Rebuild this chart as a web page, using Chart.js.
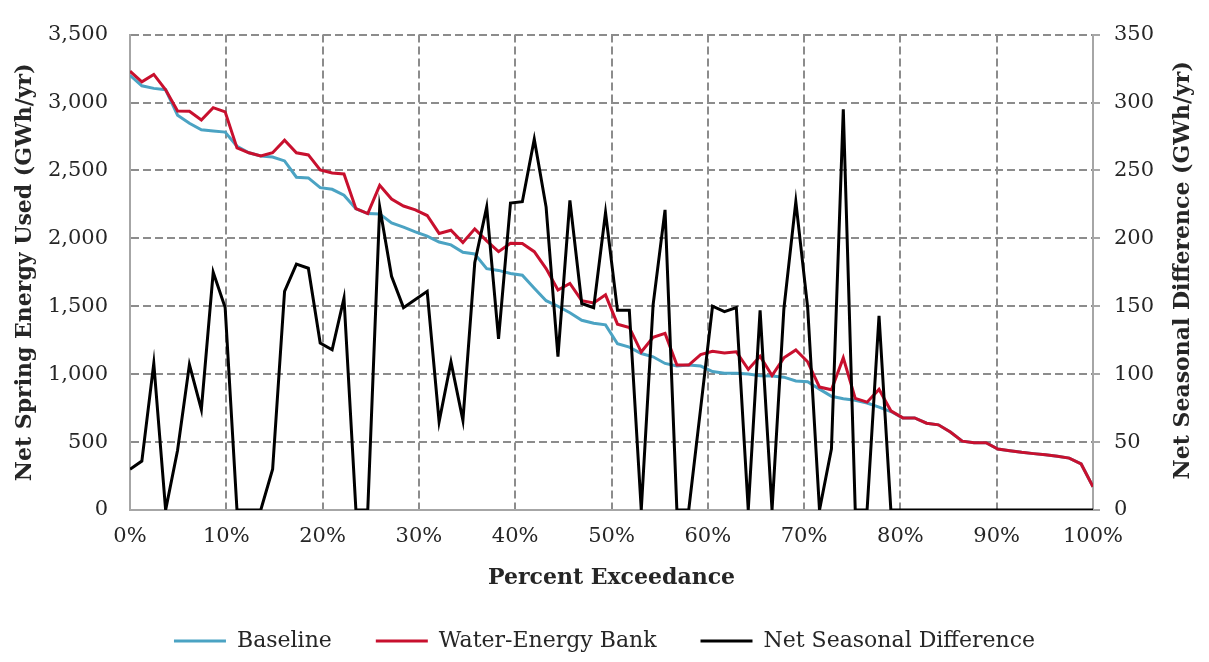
<!DOCTYPE html>
<html>
<head>
<meta charset="utf-8">
<script src="https://cdn.jsdelivr.net/npm/chart.js@4.4.1/dist/chart.umd.min.js"></script>
<style>
  html, body { margin: 0; padding: 0; background: #ffffff; }
  #wrap { width: 1209px; height: 662px; }
</style>
</head>
<body>
<div id="wrap"><canvas id="c" width="1209" height="662"></canvas></div>
<script>
// Percent exceedance of each ranked year (82 values)
const exceedance = [
  0.00, 1.23, 2.47, 3.70, 4.94, 6.17, 7.41, 8.64, 9.88, 11.11,
  12.35, 13.58, 14.81, 16.05, 17.28, 18.52, 19.75, 20.99, 22.22, 23.46,
  24.69, 25.93, 27.16, 28.40, 29.63, 30.86, 32.10, 33.33, 34.57, 35.80,
  37.04, 38.27, 39.51, 40.74, 41.98, 43.21, 44.44, 45.68, 46.91, 48.15,
  49.38, 50.62, 51.85, 53.09, 54.32, 55.56, 56.79, 58.02, 59.26, 60.49,
  61.73, 62.96, 64.20, 65.43, 66.67, 67.90, 69.14, 70.37, 71.60, 72.84,
  74.07, 75.31, 76.54, 77.78, 79.01, 80.25, 81.48, 82.72, 83.95, 85.19,
  86.42, 87.65, 88.89, 90.12, 91.36, 92.59, 93.83, 95.06, 96.30, 97.53,
  98.77, 100.00
];

// Net Spring Energy Used (GWh/yr) - left axis
const baseline = [
  3200, 3123, 3104, 3094, 2907, 2847, 2799, 2791, 2782, 2678,
  2630, 2606, 2599, 2570, 2450, 2445, 2373, 2361, 2317, 2218,
  2182, 2180, 2113, 2082, 2048, 2017, 1973, 1952, 1897, 1885,
  1777, 1764, 1741, 1729, 1633, 1541, 1500, 1452, 1397, 1375,
  1363, 1224, 1199, 1152, 1128, 1079, 1060, 1067, 1060, 1019,
  1007, 1007, 1002, 988, 986, 978, 950, 945, 890, 837,
  819, 808, 788, 757, 725, 678, 678, 639, 627, 574,
  507, 495, 495, 449, 437, 425, 415, 406, 396, 382,
  339, 171
];

const waterEnergyBank = [
  3231, 3152, 3207, 3094, 2938, 2936, 2871, 2962, 2931, 2666,
  2630, 2606, 2630, 2722, 2630, 2614, 2503, 2481, 2474, 2218,
  2182, 2390, 2289, 2238, 2210, 2168, 2036, 2060, 1969, 2070,
  1981, 1902, 1964, 1962, 1902, 1777, 1620, 1668, 1541, 1524,
  1584, 1368, 1344, 1163, 1272, 1300, 1067, 1067, 1144, 1168,
  1156, 1165, 1035, 1132, 990, 1120, 1178, 1091, 905, 885,
  1120, 822, 794, 888, 730, 678, 678, 639, 627, 574,
  507, 495, 495, 449, 437, 425, 415, 406, 396, 382,
  339, 171
];

// Net Seasonal Difference (GWh/yr) - right axis
const netSeasonalDifference = [
  30, 36, 108, 0, 44, 107, 74, 175, 149, 0,
  0, 0, 30, 161, 181, 178, 123, 118, 156, 0,
  0, 223, 172, 149, 155, 161, 65, 109, 66, 182,
  223, 126, 226, 227, 273, 223, 113, 228, 152, 149,
  219, 147, 147, 0, 151, 221, 0, 0, 75, 150,
  146, 149, 0, 147, 0, 148, 227, 149, 0, 45,
  295, 0, 0, 143, 0, 0, 0, 0, 0, 0,
  0, 0, 0, 0, 0, 0, 0, 0, 0, 0,
  0, 0
];

const seriesLabels = ['Baseline', 'Water-Energy Bank', 'Net Seasonal Difference'];
const leftTitle = 'Net Spring Energy Used (GWh/yr)';
const rightTitleText = 'Net Seasonal Difference (GWh/yr)';
const xTitle = 'Percent Exceedance';

const toPoints = (vals) => vals.map((v, i) => ({ x: exceedance[i], y: v }));

const FONT = '"DejaVu Serif", "Liberation Serif", serif';
const TEXT = '#262626';
const GRID = '#8c8c8c';
const AXIS = '#a6a6a6';

const rightTitle = {
  id: 'rightTitle',
  afterDraw(chart) {
    const { ctx, chartArea } = chart;
    const s = chart.scales.y1;
    ctx.save();
    ctx.translate(s.right - 26, (chartArea.top + chartArea.bottom) / 2 - 2);
    ctx.rotate(-Math.PI / 2);
    ctx.font = 'bold 22px ' + FONT;
    ctx.fillStyle = TEXT;
    ctx.textAlign = 'center';
    ctx.textBaseline = 'middle';
    ctx.fillText(rightTitleText, 0, 0);
    ctx.restore();
  }
};

new Chart(document.getElementById('c'), {
  type: 'line',
  data: {
    datasets: [
      {
        label: seriesLabels[0],
        data: toPoints(baseline),
        borderColor: '#4ba3c3',
        backgroundColor: '#4ba3c3',
        borderWidth: 3,
        pointRadius: 0,
        tension: 0,
        yAxisID: 'y',
        order: 3
      },
      {
        label: seriesLabels[1],
        data: toPoints(waterEnergyBank),
        borderColor: '#c8102e',
        backgroundColor: '#c8102e',
        borderWidth: 3,
        pointRadius: 0,
        tension: 0,
        yAxisID: 'y',
        order: 2
      },
      {
        label: seriesLabels[2],
        data: toPoints(netSeasonalDifference),
        borderColor: '#000000',
        backgroundColor: '#000000',
        borderWidth: 3,
        pointRadius: 0,
        tension: 0,
        yAxisID: 'y1',
        order: 1
      }
    ]
  },
  options: {
    responsive: false,
    animation: false,
    devicePixelRatio: 1,
    layout: { padding: { top: 18, left: 0, right: 0, bottom: 0 } },
    plugins: {
      tooltip: { enabled: false },
      legend: {
        position: 'bottom',
        labels: {
          usePointStyle: true,
          pointStyle: 'line',
          pointStyleWidth: 52,
          padding: 44,
          color: TEXT,
          font: { family: FONT, size: 22 },
          sort: (a, b) => a.datasetIndex - b.datasetIndex
        }
      }
    },
    scales: {
      x: {
        type: 'linear',
        min: 0,
        max: 100,
        afterFit: (s) => { s.height = 76; },
        ticks: {
          stepSize: 10,
          maxRotation: 0,
          padding: 14,
          color: TEXT,
          font: { family: FONT, size: 21 },
          callback: (v) => v + '%'
        },
        grid: { color: GRID, lineWidth: 2, drawTicks: false },
        border: { dash: [8, 4], color: AXIS, width: 2 },
        title: {
          display: true,
          text: xTitle,
          color: TEXT,
          font: { family: FONT, size: 22, weight: 'bold' },
          padding: { top: 0, bottom: -5 }
        }
      },
      y: {
        position: 'left',
        min: 0,
        max: 3500,
        afterFit: (s) => { s.width = 130; },
        ticks: {
          stepSize: 500,
          padding: 22,
          color: TEXT,
          font: { family: FONT, size: 21 },
          callback: (v) => v.toLocaleString('en-US')
        },
        grid: { color: GRID, lineWidth: 2, drawTicks: false },
        border: { dash: [8, 4], color: AXIS, width: 2 },
        title: {
          display: true,
          text: leftTitle,
          color: TEXT,
          font: { family: FONT, size: 22, weight: 'bold' },
          padding: { top: 12, bottom: 0 }
        }
      },
      y1: {
        position: 'right',
        min: 0,
        max: 350,
        afterFit: (s) => { s.width = 116; },
        ticks: {
          stepSize: 50,
          padding: 14,
          color: TEXT,
          font: { family: FONT, size: 21 }
        },
        grid: { drawOnChartArea: false, drawTicks: true, tickLength: 7, color: AXIS, lineWidth: 2 },
        border: { color: AXIS, width: 2 },
        title: { display: false }
      }
    }
  },
  plugins: [rightTitle]
});
</script>
</body>
</html>
